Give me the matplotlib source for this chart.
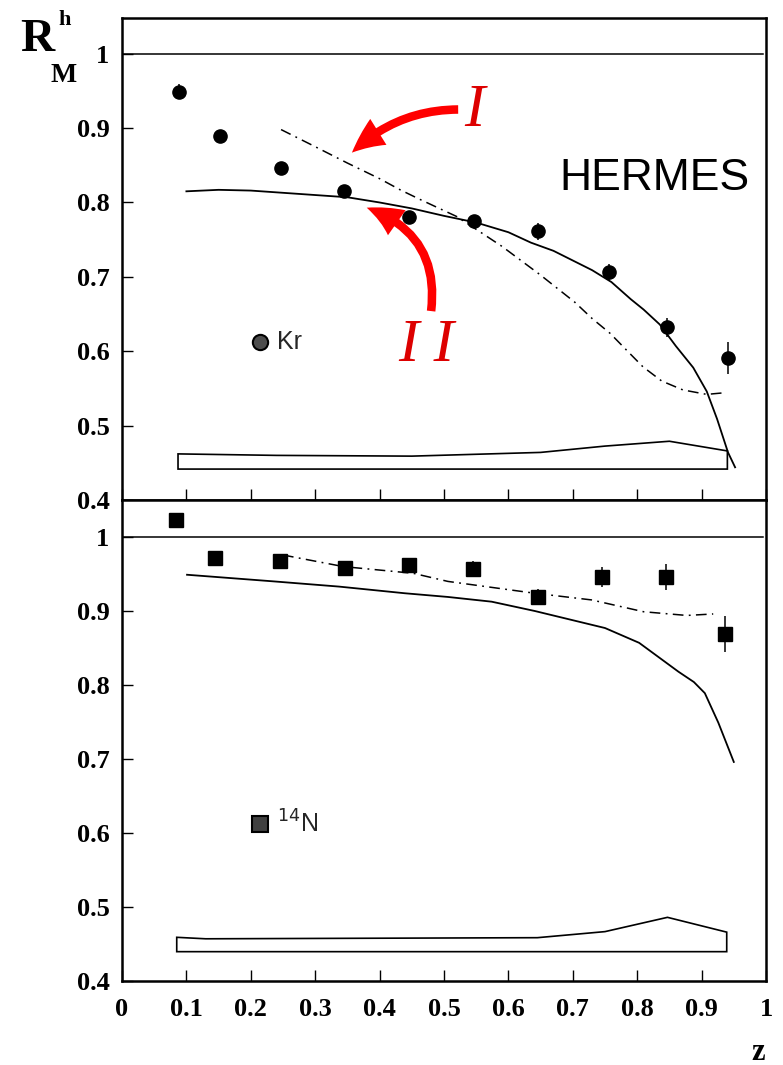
import numpy as np
import matplotlib
matplotlib.use('Agg')
import matplotlib.pyplot as plt

# ---- data ----
# Kr (top panel)
kr_z = [0.088, 0.152, 0.247, 0.345, 0.446, 0.547, 0.646, 0.756, 0.846, 0.941]
kr_r = [0.949, 0.890, 0.847, 0.815, 0.781, 0.775, 0.761, 0.706, 0.632, 0.591]
kr_err = [0.010, 0.004, 0.004, 0.004, 0.004, 0.006, 0.011, 0.011, 0.013, 0.021]

kr_model2_z = [0.10, 0.15, 0.20, 0.30, 0.35, 0.40, 0.45, 0.50, 0.55, 0.60, 0.635, 0.67, 0.70,
               0.73, 0.76, 0.79, 0.81, 0.835, 0.86, 0.887, 0.908, 0.924, 0.941, 0.952]
kr_model2_r = [0.815, 0.817, 0.816, 0.810, 0.807, 0.800, 0.792, 0.782, 0.773, 0.760, 0.746,
               0.735, 0.722, 0.709, 0.693, 0.670, 0.656, 0.636, 0.607, 0.578, 0.546, 0.509,
               0.464, 0.444]

kr_model1_z = [0.247, 0.30, 0.35, 0.40, 0.432, 0.463, 0.52, 0.59, 0.649, 0.703, 0.73,
               0.758, 0.784, 0.809, 0.838, 0.871, 0.908, 0.933]
kr_model1_r = [0.898, 0.875, 0.853, 0.832, 0.817, 0.804, 0.781, 0.741, 0.703, 0.666, 0.644,
               0.624, 0.601, 0.579, 0.560, 0.548, 0.542, 0.544]

kr_syst_z = [0.087, 0.24, 0.45, 0.65, 0.75, 0.85, 0.94]
kr_syst_top = [0.462, 0.460, 0.459, 0.464, 0.4725, 0.479, 0.466]
kr_syst_base = 0.4416

# 14N (bottom panel)
n_z = [0.084, 0.145, 0.246, 0.346, 0.446, 0.545, 0.646, 0.745, 0.845, 0.937]
n_r = [1.023, 0.972, 0.967, 0.958, 0.962, 0.957, 0.919, 0.946, 0.946, 0.869]
n_err = [0.004, 0.004, 0.004, 0.004, 0.005, 0.010, 0.011, 0.014, 0.018, 0.024]

n_model2_z = [0.101, 0.236, 0.337, 0.439, 0.506, 0.574, 0.641, 0.75, 0.803, 0.864,
              0.888, 0.905, 0.926, 0.95]
n_model2_r = [0.949, 0.940, 0.933, 0.924, 0.919, 0.9126, 0.900, 0.877, 0.857, 0.818,
              0.804, 0.789, 0.749, 0.696]

n_model1_z = [0.25, 0.344, 0.452, 0.506, 0.641, 0.729, 0.81, 0.877, 0.918]
n_model1_r = [0.9757, 0.960, 0.951, 0.940, 0.924, 0.915, 0.899, 0.894, 0.896]

n_syst_z = [0.085, 0.13, 0.645, 0.75, 0.847, 0.939]
n_syst_top = [0.459, 0.457, 0.4585, 0.4667, 0.486, 0.466]
n_syst_base = 0.4396

x_ticks = [0, 0.1, 0.2, 0.3, 0.4, 0.5, 0.6, 0.7, 0.8, 0.9, 1]
x_labels = ['0', '0.1', '0.2', '0.3', '0.4', '0.5', '0.6', '0.7', '0.8', '0.9', '1']
y_ticks = [0.4, 0.5, 0.6, 0.7, 0.8, 0.9, 1.0]
y_labels = ['0.4', '0.5', '0.6', '0.7', '0.8', '0.9', '1']

SERIF = 'Liberation Serif'
SANS = 'Liberation Sans'
DASHDOT = (0, (7, 3.5, 1.2, 3.5))


def style_axes(ax, ylim):
    ax.set_xlim(0, 1)
    ax.set_ylim(*ylim)
    ax.set_xticks(x_ticks)
    ax.set_yticks(y_ticks)
    ax.set_yticklabels(y_labels, fontfamily=SERIF, fontweight='bold')
    ax.tick_params(direction='in', length=8, width=1.0, labelsize=19)
    ax.tick_params(axis='y', pad=9)
    ax.tick_params(axis='x', pad=12)
    for sp in ax.spines.values():
        sp.set_linewidth(1.8)
    ax.axhline(1.0, xmin=0, xmax=0.995, color='k', lw=1.1)


def draw_band(ax, z, top, base):
    xs = [z[0]] + list(z) + [z[-1]]
    ys = [base] + list(top) + [base]
    ax.fill(xs, ys, facecolor='none', edgecolor='k', lw=1.2)


fig = plt.figure(figsize=(7.83, 10.65), dpi=100)
ax1 = fig.add_axes([0.1558, 0.5305, 0.8225, 0.4526])
ax2 = fig.add_axes([0.1558, 0.0789, 0.8225, 0.4516])

# top panel: Kr
style_axes(ax1, (0.4, 1.048))
ax1.set_xticklabels([])
ax1.plot(kr_model2_z, kr_model2_r, color='k', lw=1.3)
ax1.plot(kr_model1_z, kr_model1_r, color='k', lw=1.1, linestyle=DASHDOT)
ax1.errorbar(kr_z, kr_r, yerr=kr_err, fmt='o', color='k', ms=9.5, elinewidth=1.1, capsize=0)
draw_band(ax1, kr_syst_z, kr_syst_top, kr_syst_base)
ax1.plot([0.214], [0.612], marker='o', ms=11, mfc='0.3', mec='k', mew=1.5)
ax1.text(0.24, 0.612, 'Kr', fontsize=18, fontfamily=SANS, color='0.15', va='center', ha='left')
ax1.text(0.827, 0.832, 'HERMES', fontsize=32, fontfamily=SANS, va='center', ha='center')

arrow_kw = dict(arrowstyle='simple,head_length=1.1,head_width=1.0,tail_width=0.28',
                color='#ff0000', lw=0, shrinkA=0, shrinkB=0, mutation_scale=22)
ax1.annotate('', xy=(0.357, 0.867), xytext=(0.522, 0.925),
             arrowprops=dict(connectionstyle='arc3,rad=0.2', **arrow_kw))
ax1.annotate('', xy=(0.380, 0.793), xytext=(0.480, 0.654),
             arrowprops=dict(connectionstyle='arc3,rad=0.4', **arrow_kw))
ax1.text(0.548, 0.922, 'I', fontsize=44, fontfamily=SERIF, fontstyle='italic',
         color='#dd0000', ha='center', va='center')
ax1.text(0.472, 0.607, 'I I', fontsize=44, fontfamily=SERIF, fontstyle='italic',
         color='#dd0000', ha='center', va='center')

# bottom panel: 14N
style_axes(ax2, (0.4, 1.05))
ax2.set_xticklabels(x_labels, fontfamily=SERIF, fontweight='bold')
ax2.plot(n_model2_z, n_model2_r, color='k', lw=1.3)
ax2.plot(n_model1_z, n_model1_r, color='k', lw=1.1, linestyle=DASHDOT)
ax2.errorbar(n_z, n_r, yerr=n_err, fmt='s', color='k', ms=9.5, elinewidth=1.1, capsize=0)
draw_band(ax2, n_syst_z, n_syst_top, n_syst_base)
ax2.plot([0.214], [0.612], marker='s', ms=12, mfc='0.25', mec='k', mew=1.5)
ax2.text(0.24, 0.612, r'$^{14}$N', fontsize=18, fontfamily=SANS, color='0.15',
         va='center', ha='left')

# axis titles
fig.text(37 / 783, 1 - 40 / 1065, 'R', fontsize=34, fontfamily=SERIF, fontweight='bold',
         ha='center', va='center')
fig.text(65 / 783, 1 - 20 / 1065, 'h', fontsize=16, fontfamily=SERIF, fontweight='bold',
         ha='center', va='center')
fig.text(64 / 783, 1 - 75 / 1065, 'M', fontsize=20, fontfamily=SERIF, fontweight='bold',
         ha='center', va='center')
fig.text(758 / 783, 1 - 1052 / 1065, 'z', fontsize=22, fontfamily=SERIF, fontweight='bold',
         ha='center', va='center')

fig.savefig('out.png', dpi=100)
